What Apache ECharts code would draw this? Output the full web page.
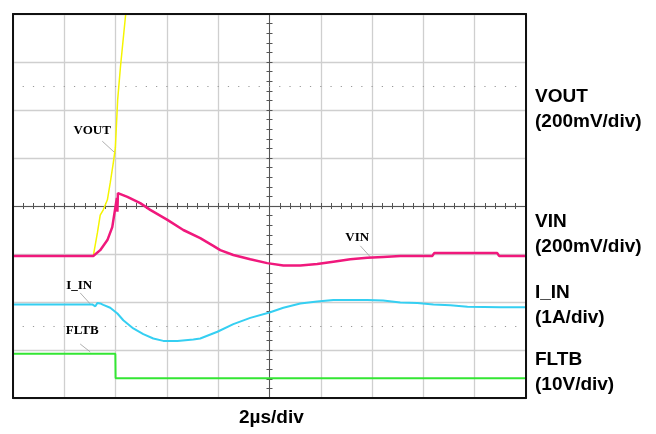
<!DOCTYPE html>
<html>
<head>
<meta charset="utf-8">
<script src="https://cdn.jsdelivr.net/npm/echarts@6/dist/echarts.min.js"></script>
<style>
html,body{margin:0;padding:0;background:#fff;}
#chart{width:656px;height:434px;}
</style>
</head>
<body>
<div id="chart"></div>
<script>
// Time axis in µs (2 µs/div), vertical axis in screen divisions
const timeRange = [-10, 10];
const divRange = [-4, 4];

const voutTrace = [[-10,-1.04],[-6.87,-1.04],[-6.71,-0.56],[-6.60,-0.19],[-6.48,-0.08],[-6.32,0.13],[-6.21,0.48],[-6.09,0.90],[-6.01,1.21],[-5.92,2.21],[-5.81,2.90],[-5.61,3.98],[-5.50,4.50]];

const vinTrace = [[-10,-1.04],[-6.87,-1.04],[-6.60,-0.92],[-6.32,-0.71],[-6.13,-0.44],[-5.95,0.17],[-5.93,-0.12],[-5.91,0.27],[-5.88,0.29],[-5.54,0.19],[-5.04,0.06],[-4.65,-0.08],[-3.98,-0.29],[-3.36,-0.50],[-2.70,-0.67],[-2.19,-0.83],[-1.92,-0.92],[-1.41,-1.02],[-0.75,-1.11],[-0.09,-1.19],[0.54,-1.24],[1.20,-1.24],[1.86,-1.21],[2.49,-1.16],[3.15,-1.11],[3.81,-1.08],[4.43,-1.06],[5.10,-1.04],[6.35,-1.04],[6.42,-0.98],[8.88,-0.98],[8.95,-1.04],[10,-1.04]];

const iinTrace = [[-10,-2.05],[-6.91,-2.05],[-6.79,-2.09],[-6.71,-2.02],[-6.60,-2.03],[-6.48,-2.06],[-6.21,-2.12],[-5.93,-2.24],[-5.70,-2.38],[-5.31,-2.55],[-4.92,-2.67],[-4.53,-2.76],[-4.14,-2.81],[-3.59,-2.81],[-2.97,-2.78],[-2.70,-2.76],[-2.03,-2.62],[-1.41,-2.46],[-0.75,-2.33],[0.0,-2.22],[0.54,-2.12],[1.20,-2.03],[1.86,-1.99],[2.49,-1.96],[3.15,-1.96],[3.81,-1.96],[4.43,-1.97],[5.10,-2.01],[5.76,-2.02],[6.39,-2.05],[7.05,-2.07],[7.72,-2.10],[9.00,-2.11],[10,-2.11]];

const fltbTrace = [[-10,-3.08],[-6.01,-3.08],[-6.00,-3.59],[10,-3.59]];

// annotation: [name, labelPos, leaderStart, leaderEnd]
const voutNote = ['VOUT', [-6.91,1.56], [-6.52,1.35], [-6.01,1.10]];
const vinNote  = ['VIN',  [3.42,-0.65], [3.54,-0.83], [3.93,-1.06]];
const iinNote  = ['I_IN', [-7.42,-1.65], [-7.38,-1.81], [-6.99,-2.04]];
const fltbNote = ['FLTB', [-7.30,-2.60], [-7.38,-2.875], [-6.99,-3.04]];

const scaleLabels = [
  ['VOUT', '(200mV/div)', 84],
  ['VIN', '(200mV/div)', 209],
  ['I_IN', '(1A/div)', 280],
  ['FLTB', '(10V/div)', 347]
];
const xAxisLabel = '2µs/div';
const dottedLevels = [2.5, -2.5];

function note(n){
  return {
    markLine: {
      silent: true, symbol: 'none', animation: false,
      lineStyle: {color: '#9a9a9a', width: 0.8, type: 'solid'},
      label: {show: false},
      data: [[{coord: n[2]}, {coord: n[3]}]]
    },
    markPoint: {
      silent: true, symbol: 'circle', symbolSize: 0, animation: false,
      label: {show: true, formatter: n[0], position: 'inside', color: '#000',
        fontFamily: '"Liberation Serif", "Times New Roman", serif', fontWeight: 'bold', fontSize: 13},
      data: [{coord: n[1]}]
    }
  };
}

function trace(name, data, color, width, n){
  return Object.assign({
    type: 'line', name: name, data: data, symbol: 'none', clip: true,
    animation: false, lineStyle: {color: color, width: width}, z: 5
  }, n ? note(n) : {});
}

const chart = echarts.init(document.getElementById('chart'), null, {renderer: 'canvas'});
const axisCommonX = {
  type: 'value', min: timeRange[0], max: timeRange[1], interval: 2,
  axisLabel: {show: false},
  axisLine: {show: true, onZero: true, lineStyle: {color: '#555', width: 1}},
  axisTick: {show: true, length: 3, lineStyle: {color: '#555'}},
  minorTick: {show: true, splitNumber: 5, length: 3, lineStyle: {color: '#555'}}
};
const axisCommonY = {
  type: 'value', min: divRange[0], max: divRange[1], interval: 1,
  axisLabel: {show: false},
  axisLine: {show: true, onZero: true, lineStyle: {color: '#555', width: 1}},
  axisTick: {show: true, length: 3, lineStyle: {color: '#555'}},
  minorTick: {show: true, splitNumber: 5, length: 3, lineStyle: {color: '#555'}}
};
function borderAxis(base, pos){
  return Object.assign({}, base, {position: pos, z: 20,
    axisLine: {show: true, onZero: false, lineStyle: {color: '#111', width: 2}},
    axisTick: {show: false}, minorTick: {show: false}, splitLine: {show: false}});
}

const titles = [];
scaleLabels.forEach(s => {
  titles.push({text: s[0] + '\n' + s[1], left: 535, top: s[2], padding: 0,
    textStyle: {fontFamily: '"Liberation Sans", Arial, sans-serif', fontWeight: 'bold',
      fontSize: 19, lineHeight: 25.5, color: '#000'}});
});
titles.push({text: xAxisLabel, left: 239, top: 408, padding: 0,
  textStyle: {fontFamily: '"Liberation Sans", Arial, sans-serif', fontWeight: 'bold', fontSize: 19, color: '#000'}});

chart.setOption({
  backgroundColor: '#fff',
  animation: false,
  title: titles,
  grid: {left: 13, top: 14, width: 513, height: 384, show: false},
  xAxis: [
    Object.assign({}, axisCommonX, {position: 'bottom',
      splitLine: {show: true, lineStyle: {color: '#cfcfcf', width: 1.3}}}),
    Object.assign({}, axisCommonX, {position: 'top', splitLine: {show: false}}),
    borderAxis(axisCommonX, 'top'),
    borderAxis(axisCommonX, 'bottom')
  ],
  yAxis: [
    Object.assign({}, axisCommonY, {position: 'left',
      splitLine: {show: true, lineStyle: {color: '#cfcfcf', width: 1.3}}}),
    Object.assign({}, axisCommonY, {position: 'right', splitLine: {show: false}}),
    borderAxis(axisCommonY, 'left'),
    borderAxis(axisCommonY, 'right')
  ],
  series: [
    {
      type: 'line', data: [], symbol: 'none', silent: true,
      markLine: {
        silent: true, symbol: 'none', animation: false, label: {show: false},
        lineStyle: {color: '#999', width: 1.2, type: [1.2, 9.06], dashOffset: 0.6},
        data: dottedLevels.map(v => ({yAxis: v}))
      }
    },
    trace('VOUT', voutTrace, '#f5f500', 1.5, voutNote),
    trace('FLTB', fltbTrace, '#33e633', 2, fltbNote),
    trace('I_IN', iinTrace, '#35cff2', 2, iinNote),
    trace('VIN', vinTrace, '#f0187c', 2.5, vinNote)
  ]
});
</script>
</body>
</html>
